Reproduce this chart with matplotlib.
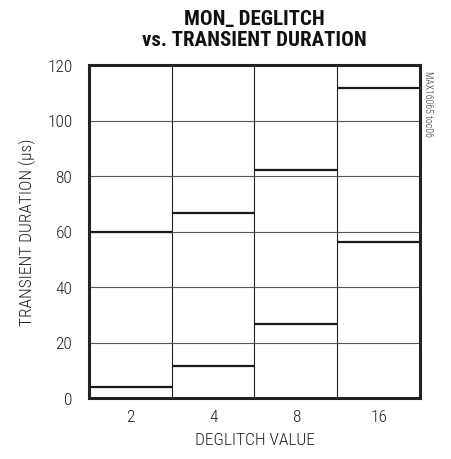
import matplotlib
matplotlib.use("Agg")
import matplotlib.pyplot as plt
import numpy as np

# ---- data ----
categories = ["2", "4", "8", "16"]
min_duration = [4.1, 11.5, 26.5, 56.2]
max_duration = [59.7, 66.5, 82.0, 111.6]
y_ticks = [0, 20, 40, 60, 80, 100, 120]

plt.rcParams["font.family"] = ["Roboto Condensed", "Archivo Narrow", "Barlow Semi Condensed", "DejaVu Sans"]

fig = plt.figure(figsize=(4.51, 4.60), dpi=100)
ax = fig.add_axes([89/451, 1-399/460, (420-89)/451, (399-66)/460])

x = np.arange(len(categories))
ax.hlines(min_duration, x - 0.5, x + 0.5, colors="#1a1a1a", linewidth=1.6, zorder=3)
ax.hlines(max_duration, x - 0.5, x + 0.5, colors="#1a1a1a", linewidth=1.6, zorder=3)

ax.set_xlim(-0.5, len(categories) - 0.5)
ax.set_ylim(0, 120)
ax.set_yticks(y_ticks)
ax.set_yticklabels([str(v) for v in y_ticks], fontweight="light")
ax.set_xticks(x)
ax.set_xticklabels(categories, fontweight="light")
ax.set_xticks(x[:-1] + 0.5, minor=True)
ax.tick_params(which="both", length=0)
ax.tick_params(axis="y", pad=12, labelsize=12.5, colors="#222222")
ax.tick_params(axis="x", pad=8, labelsize=12.5, colors="#222222")
ax.grid(axis="y", which="major", color="#555555", linewidth=0.8)
ax.grid(axis="x", which="minor", color="#222222", linewidth=0.8)
ax.set_axisbelow(True)
for s in ax.spines.values():
    s.set_linewidth(2.2)
    s.set_color("#222222")

ax.set_xlabel("DEGLITCH VALUE", fontsize=12.5, color="#222222", labelpad=6, fontweight="light")
ax.set_ylabel("TRANSIENT DURATION (\u00b5s)", fontsize=12.5, color="#222222", labelpad=8, fontweight="light")

fig.text(254/451, 1-30/460, "MON_ DEGLITCH\nvs. TRANSIENT DURATION", ha="center", va="center",
         fontsize=15, fontweight="heavy", color="#111111", linespacing=1.1)
fig.text(428/451, 1-104/460, "MAX16065 toc06", rotation=270, ha="center", va="center",
         fontsize=7, color="#333333", fontweight="light")

fig.savefig("out.png", dpi=100)
